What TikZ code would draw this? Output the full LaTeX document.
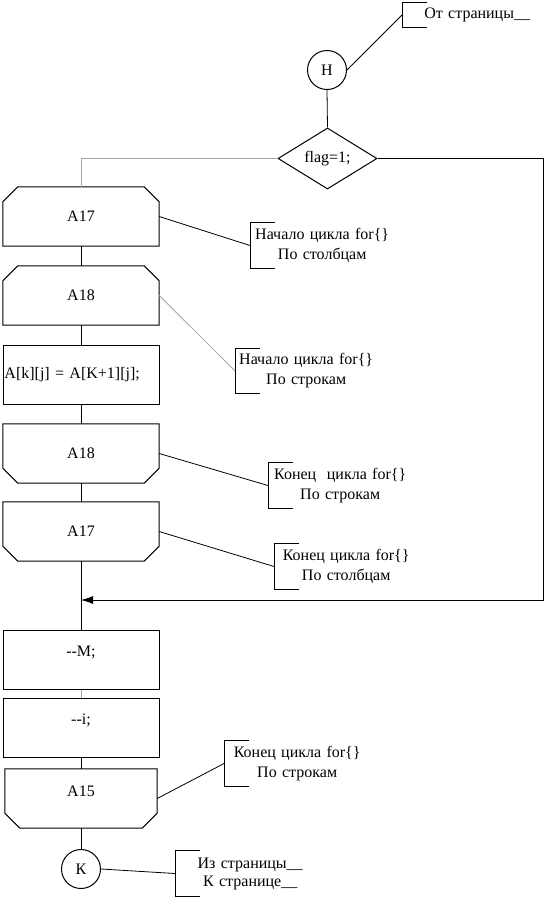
\documentclass[tikz,border=0pt]{standalone}
\usepackage{fontspec}
\setmainfont{Liberation Serif}
\usetikzlibrary{shapes.geometric,arrows.meta}
\newcommand\topcham[1]{\draw[boxline] ([yshift=-15pt]#1.north west) -- ([xshift=15pt]#1.north west) -- ([xshift=-15pt]#1.north east) -- ([yshift=-15pt]#1.north east) -- (#1.south east) -- (#1.south west) -- cycle;}
\newcommand\botcham[1]{\draw[boxline] (#1.north west) -- (#1.north east) -- ([yshift=15pt]#1.south east) -- ([xshift=-15pt]#1.south east) -- ([xshift=15pt]#1.south west) -- ([yshift=15pt]#1.south west) -- cycle;}
\newcommand\cbracket[1]{\draw[cline] ([xshift=25pt]#1.north west) -- (#1.north west) -- (#1.south west) -- ([xshift=25pt]#1.south west);}
\begin{document}
\begin{tikzpicture}[x=1pt,y=-1pt,
  font=\fontsize{16}{20}\selectfont,
  boxline/.style={line width=1pt, draw=black},
  cline/.style={line width=0.8pt, draw=black},
  conn/.style={line width=0.8pt, draw=black},
  conng/.style={line width=0.8pt, draw=gray!70},
  box/.style={draw=none, minimum width=156pt, minimum height=59pt, inner sep=0pt},
  boxr/.style={box, boxline, draw},
  circ/.style={circle, draw, line width=1pt, minimum size=39pt, inner sep=0pt},
  dia/.style={diamond, draw, line width=1pt, minimum width=99pt, minimum height=59pt, inner sep=0pt},
  cmt/.style={anchor=west, minimum height=45pt, inner sep=0pt, align=center, text width=#1}
]
\useasboundingbox (0,0) rectangle (557,898);

% main column
\node[circ] (H) at (327,70) {Н};
\node[dia] (D) at (327.5,158.5) {flag=1;};
\node[box] (a17) at (81,216.5) {A17}; \topcham{a17}
\node[box] (a18) at (81,295.5) {A18}; \topcham{a18}
\node[boxr, text width=155pt, align=left] (asg) at (81,374.5) {\hspace*{1pt}A[k][j] = A[K+1][j];};
\node[box] (a18b) at (81,453.5) {A18}; \botcham{a18b}
\node[box] (a17b) at (81,531.5) {A17}; \botcham{a17b}
\node[boxr, text height=11pt, text depth=18pt] (dm) at (81,659.5) {-{}-M;};
\node[boxr, text height=11pt, text depth=18pt] (di) at (81,727.5) {-{}-i;};
\node[box, minimum width=152pt, text height=11pt, text depth=16pt] (a15) at (81,798.5) {A15}; \botcham{a15}
\node[circ] (K) at (81,869) {К};

% comments
\node[anchor=west, minimum height=24pt, inner sep=0pt, align=center, text width=150pt] (ctop) at (402,15) {От страницы\_\_};
\cbracket{ctop}
\node[cmt=144pt] (c1) at (250,245.5) {Начало цикла for\{\}\\По столбцам}; \cbracket{c1}
\node[cmt=142pt] (c2) at (235,371) {Начало цикла for\{\}\\По строкам}; \cbracket{c2}
\node[cmt=144pt] (c3) at (268,485.5) {Конец\ \ цикла for\{\}\\По строкам}; \cbracket{c3}
\node[cmt=144pt] (c4) at (274,566.5) {Конец цикла for\{\}\\По столбцам}; \cbracket{c4}
\node[cmt=146pt] (c5) at (224,763.5) {Конец цикла for\{\}\\По строкам}; \cbracket{c5}
\node[cmt=150pt, font=\fontsize{16}{18}\selectfont] (ck) at (175,873.5) {Из страницы\_\_\\К странице\_\_}; \cbracket{ck}

% flow connectors
\draw[conn] (H.south) -- (D.north);
\draw[conng] (D.west) -| (a17.north);
\draw[conn] (a17.south) -- (a18.north);
\draw[conn] (a18.south) -- (asg.north);
\draw[conn] (asg.south) -- (a18b.north);
\draw[conn] (a18b.south) -- (a17b.north);
\draw[conn] (a17b.south) -- (dm.north);
\draw[conng] (dm.south) -- (di.north);
\draw[conn] (di.south) -- (a15.north);
\draw[conn] (a15.south) -- (K.north);
\coordinate (rc) at (543,600);
\coordinate (join) at (81,600);
\draw[conn, -{Latex[length=12pt,width=8pt]}] (D.east) -| (rc) -- (join);

% comment connectors
\draw[conn] (H.east) -- (ctop.west);
\draw[conn] (a17.east) -- (c1.west);
\draw[conng] (a18.east) -- (c2.west);
\draw[conn] (a18b.east) -- (c3.west);
\draw[conn] (a17b.east) -- (c4.west);
\draw[conn] (a15.east) -- (c5.west);
\draw[conn] (K.east) -- (ck.west);
\end{tikzpicture}
\end{document}
